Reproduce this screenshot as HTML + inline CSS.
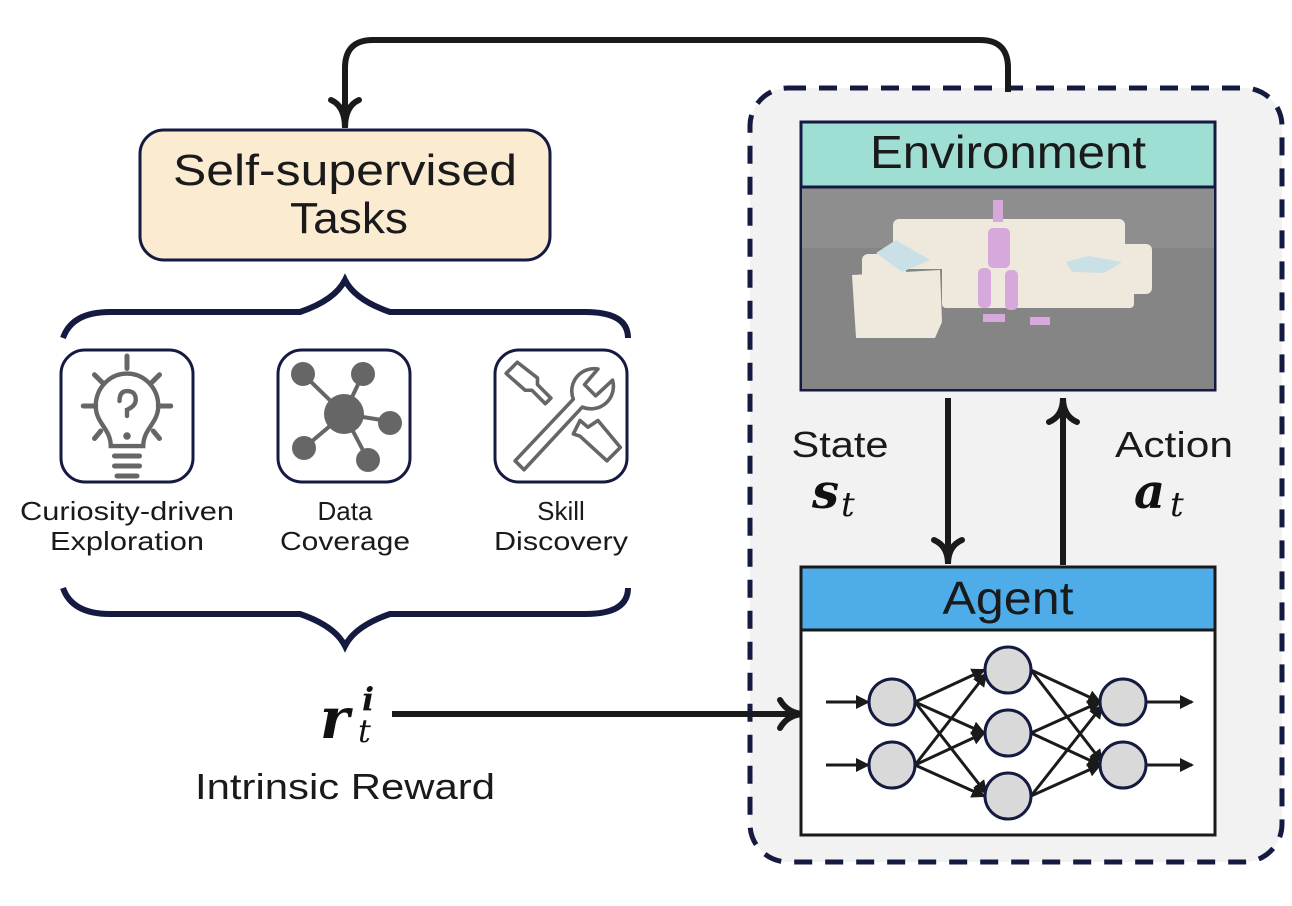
<!DOCTYPE html>
<html><head><meta charset="utf-8"><style>
html,body{margin:0;padding:0;background:#fff;}
svg{display:block;font-family:"Liberation Sans",sans-serif;}
</style></head><body>
<svg width="1292" height="906" viewBox="0 0 1292 906" xmlns="http://www.w3.org/2000/svg">
<defs>
<marker id="ahs" markerWidth="14" markerHeight="14" refX="12" refY="7" orient="auto" markerUnits="userSpaceOnUse">
<path d="M0,0 L14,7 L0,14 Z" fill="#1a1a1a"/></marker>
</defs>
<rect x="750" y="88" width="532" height="774" rx="38" fill="#f2f2f2" stroke="#141a40" stroke-width="5" stroke-dasharray="18 13"/>
<path d="M1008,92 L1008,68 Q1008,40 980,40 L373,40 Q345,40 345,68 L345,128" fill="none" stroke="#1a1a1a" stroke-width="6"/>
<path d="M331,100 Q345,106 345,128 Q345,106 359,100" fill="none" stroke="#1a1a1a" stroke-width="6" stroke-linecap="round"/>
<rect x="140" y="130" width="410" height="130" rx="24" fill="#fbebd1" stroke="#141a40" stroke-width="3"/>
<text x="345" y="185" font-size="44" text-anchor="middle" fill="#1a1a1a" textLength="344" lengthAdjust="spacingAndGlyphs">Self-supervised</text>
<text x="349" y="233" font-size="44" text-anchor="middle" fill="#1a1a1a" textLength="118" lengthAdjust="spacingAndGlyphs">Tasks</text>
<path d="M63,338 Q72,312 110,312 L300,312 Q335,300 345,280 Q355,300 390,312 L585,312 Q628,312 628,338" fill="none" stroke="#141a40" stroke-width="6"/>
<path d="M63,588 Q72,614 110,614 L300,614 Q335,626 345,646 Q355,626 390,614 L585,614 Q628,614 628,588" fill="none" stroke="#141a40" stroke-width="6"/>
<rect x="61" y="350" width="132" height="132" rx="24" fill="#fff" stroke="#141a40" stroke-width="3"/>
<rect x="278" y="350" width="132" height="132" rx="24" fill="#fff" stroke="#141a40" stroke-width="3"/>
<rect x="495" y="350" width="132" height="132" rx="24" fill="#fff" stroke="#141a40" stroke-width="3"/>
<g transform="translate(127,416) scale(1.25) translate(-127,-416)">
<g stroke="#666" stroke-width="4" fill="none" stroke-linecap="round">
<path d="M127,408 m-25,0 a25,26 0 1,1 50,0 c0,14 -12,18 -12,32 l-26,0 c0,-14 -12,-18 -12,-32z" stroke-width="3.5"/>
<line x1="127" y1="368" x2="127" y2="378"/><line x1="92" y1="408" x2="102" y2="408"/><line x1="152" y1="408" x2="162" y2="408"/>
<line x1="101" y1="383" x2="107" y2="389"/><line x1="153" y1="383" x2="147" y2="389"/>
<line x1="101" y1="434" x2="106" y2="428"/><line x1="153" y1="434" x2="148" y2="428"/>
<line x1="117" y1="448" x2="137" y2="448"/><line x1="117" y1="456" x2="137" y2="456"/><line x1="119" y1="464" x2="135" y2="464"/>
<path d="M121,404 q0,-8 6,-8 q7,0 7,7 q0,5 -7,8 l0,5" stroke-width="3.5"/>
</g>
<circle cx="127" cy="432" r="3" fill="#666"/>
</g>
<g stroke="#666" stroke-width="4"><line x1="344" y1="414" x2="303" y2="374"/><line x1="344" y1="414" x2="363" y2="374"/><line x1="344" y1="414" x2="388" y2="421"/><line x1="344" y1="414" x2="304" y2="448"/><line x1="344" y1="414" x2="367" y2="458"/></g>
<g fill="#666"><circle cx="344" cy="414" r="20"/><circle cx="303" cy="374" r="12"/><circle cx="363" cy="374" r="12"/><circle cx="390" cy="423" r="12"/><circle cx="304" cy="448" r="12"/><circle cx="368" cy="460" r="12"/></g>
<g transform="translate(561,416) scale(1.12) translate(-561,-420)">
<g stroke="#666" stroke-width="3.2" fill="none" stroke-linejoin="round">
<path d="M520,460 L572,405 A20,20 0 0,1 594,378 L582,392 L592,402 L607,388 A20,20 0 0,1 580,412 L528,468 Z"/>
<path d="M512,382 L522,372 L540,386 L540,392 L552,404 L547,409 L535,397 L529,397 Z"/>
<path d="M578,424 L585,430 L594,424 L614,448 L602,460 L578,438 L572,436 Z"/>
</g></g>
<g font-size="26" text-anchor="middle" fill="#1a1a1a">
<text x="127" y="520" textLength="214" lengthAdjust="spacingAndGlyphs">Curiosity-driven</text><text x="127" y="550" textLength="154" lengthAdjust="spacingAndGlyphs">Exploration</text>
<text x="345" y="520">Data</text><text x="345" y="550" textLength="130" lengthAdjust="spacingAndGlyphs">Coverage</text>
<text x="561" y="520">Skill</text><text x="561" y="550" textLength="134" lengthAdjust="spacingAndGlyphs">Discovery</text>
</g>
<text x="320" y="738" font-size="56" font-family="DejaVu Serif,serif" font-style="italic" font-weight="bold" fill="#111">r</text>
<text x="362" y="710" font-size="32" font-family="DejaVu Serif,serif" font-style="italic" font-weight="bold" fill="#111">i</text>
<text x="358" y="742" font-size="32" font-family="DejaVu Serif,serif" font-style="italic" fill="#111">t</text>
<line x1="392" y1="714" x2="800" y2="714" stroke="#1a1a1a" stroke-width="6"/>
<path d="M780,700 Q788,714 805,714 Q788,714 780,728" fill="none" stroke="#1a1a1a" stroke-width="6" stroke-linecap="round"/>
<text x="345" y="799" font-size="36" text-anchor="middle" fill="#1a1a1a" textLength="300" lengthAdjust="spacingAndGlyphs">Intrinsic Reward</text>
<rect x="801" y="122" width="414" height="268" fill="#7c7c7c" stroke="#141a40" stroke-width="3"/>
<rect x="802" y="188" width="412" height="201" fill="#858585"/>
<rect x="802" y="188" width="412" height="60" fill="#8e8e8e"/>
<rect x="801" y="122" width="414" height="65" fill="#9fded3" stroke="#141a40" stroke-width="3"/>
<text x="1008" y="168" font-size="46" text-anchor="middle" fill="#1a1a1a" textLength="276" lengthAdjust="spacingAndGlyphs">Environment</text>
<g fill="#efe8dc">
<rect x="893" y="219" width="232" height="50" rx="6"/>
<rect x="862" y="254" width="44" height="40" rx="6"/>
<rect x="1120" y="244" width="32" height="50" rx="6"/>
<rect x="942" y="266" width="192" height="42" rx="4"/>
<path d="M852,275 L940,270 L942,322 L935,338 L856,338 Z"/>
</g>
<g fill="#c9e0e6"><path d="M876,253 L896,240 L930,260 L902,272 Z"/><path d="M1066,262 L1088,256 L1122,262 L1104,273 L1072,272 Z"/></g>
<g fill="#d6a8db"><rect x="993" y="200" width="10" height="22"/><rect x="988" y="228" width="22" height="40" rx="5"/><rect x="978" y="268" width="13" height="40" rx="5"/><rect x="1005" y="270" width="13" height="40" rx="5"/><rect x="983" y="314" width="22" height="8"/><rect x="1030" y="317" width="20" height="8"/></g>
<rect x="801" y="567" width="414" height="268" fill="#fff" stroke="#1a1a1a" stroke-width="3"/>
<rect x="801" y="567" width="414" height="63" fill="#4eace9" stroke="#1a1a1a" stroke-width="3"/>
<text x="1008" y="614" font-size="46" text-anchor="middle" fill="#1a1a1a" textLength="131" lengthAdjust="spacingAndGlyphs">Agent</text>
<line x1="948" y1="398" x2="948" y2="562" stroke="#1a1a1a" stroke-width="6"/>
<path d="M934,540 Q948,546 948,564 Q948,546 962,540" fill="none" stroke="#1a1a1a" stroke-width="6" stroke-linecap="round"/>
<line x1="1063" y1="565" x2="1063" y2="400" stroke="#1a1a1a" stroke-width="6"/>
<path d="M1049,422 Q1063,416 1063,398 Q1063,416 1077,422" fill="none" stroke="#1a1a1a" stroke-width="6" stroke-linecap="round"/>
<text x="840" y="457" font-size="36" text-anchor="middle" fill="#1a1a1a" textLength="97" lengthAdjust="spacingAndGlyphs">State</text>
<text x="812" y="508" font-size="48" font-family="DejaVu Serif,serif" font-style="italic" font-weight="bold" fill="#111">s</text>
<text x="841" y="516" font-size="34" font-family="DejaVu Serif,serif" font-style="italic" fill="#111">t</text>
<text x="1174" y="457" font-size="36" text-anchor="middle" fill="#1a1a1a" textLength="118" lengthAdjust="spacingAndGlyphs">Action</text>
<text x="1134" y="508" font-size="48" font-family="DejaVu Serif,serif" font-style="italic" font-weight="bold" fill="#111">a</text>
<text x="1170" y="516" font-size="34" font-family="DejaVu Serif,serif" font-style="italic" fill="#111">t</text>
<g stroke="#1a1a1a" stroke-width="3" marker-end="url(#ahs)">
<line x1="826" y1="702" x2="868" y2="702"/><line x1="826" y1="765" x2="868" y2="765"/>
<line x1="915" y1="702" x2="984" y2="670"/><line x1="915" y1="702" x2="984" y2="733"/><line x1="915" y1="702" x2="986" y2="793"/>
<line x1="915" y1="765" x2="986" y2="674"/><line x1="915" y1="765" x2="984" y2="733"/><line x1="915" y1="765" x2="984" y2="796"/>
<line x1="1031" y1="670" x2="1100" y2="702"/><line x1="1031" y1="670" x2="1102" y2="762"/>
<line x1="1031" y1="733" x2="1100" y2="702"/><line x1="1031" y1="733" x2="1100" y2="765"/>
<line x1="1031" y1="796" x2="1102" y2="706"/><line x1="1031" y1="796" x2="1100" y2="765"/>
<line x1="1146" y1="702" x2="1192" y2="702"/><line x1="1146" y1="765" x2="1192" y2="765"/>
</g>
<g fill="#d9d9d9" stroke="#141a40" stroke-width="3">
<circle cx="892" cy="702" r="23"/><circle cx="892" cy="765" r="23"/>
<circle cx="1008" cy="670" r="23"/><circle cx="1008" cy="733" r="23"/><circle cx="1008" cy="796" r="23"/>
<circle cx="1123" cy="702" r="23"/><circle cx="1123" cy="765" r="23"/>
</g>
</svg>
</body></html>
